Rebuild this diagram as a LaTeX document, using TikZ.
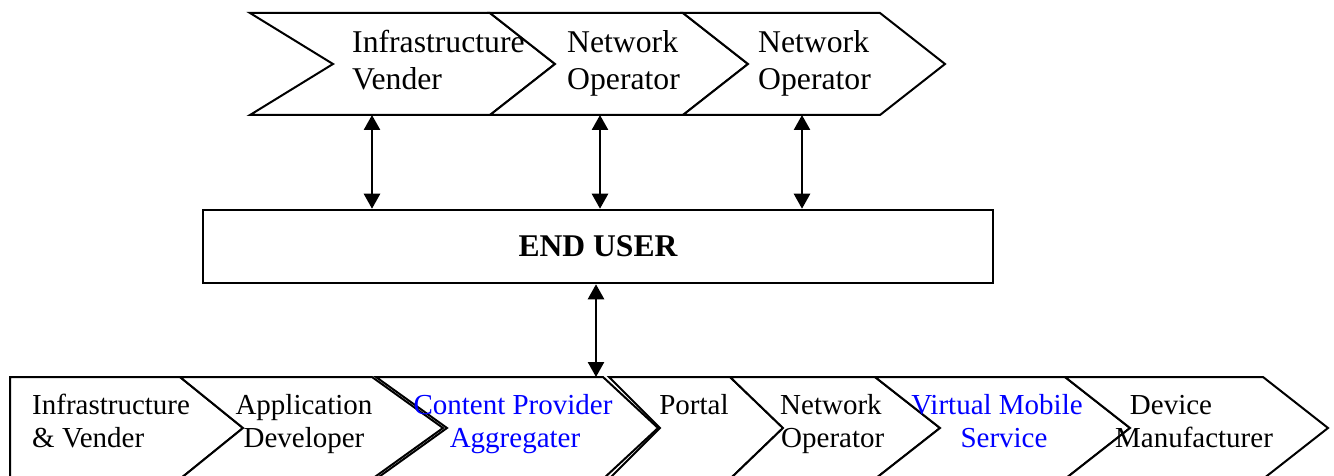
\documentclass[tikz,border=0pt]{standalone}
\usepackage{fontspec}
\setmainfont{Liberation Serif}
\usetikzlibrary{arrows.meta}
\definecolor{lblblue}{RGB}{0,0,255}
\tikzset{
  chev/.style={draw=black, line width=2pt, line join=miter, fill=white},
  toptxt/.style={inner sep=0pt, font=\fontsize{31.7pt}{37pt}\selectfont},
  bottxt/.style={inner sep=0pt, font=\fontsize{29pt}{33pt}\selectfont},
  bluetxt/.style={bottxt, text=lblblue},
  dbl/.style={line width=2.5pt, {Triangle[length=15pt,width=16pt]}-{Triangle[length=15pt,width=16pt]}},
  userbox/.style={draw, line width=2.5pt, minimum width=790pt, minimum height=73pt, inner sep=0pt,
    font=\fontsize{31.6pt}{37pt}\selectfont\bfseries}
}
\begin{document}
\begin{tikzpicture}[x=1pt,y=-1pt]
\useasboundingbox (0,0) rectangle (1334,476);

% top chevrons
\draw[chev] (250,13) -- (490,13) -- (555,64) -- (490,115) -- (250,115) -- (333,64) -- cycle;
\draw[chev] (490,13) -- (683,13) -- (748,64) -- (683,115) -- (490,115) -- (555,64) -- cycle;
\draw[chev] (683,13) -- (880,13) -- (945,64) -- (880,115) -- (683,115) -- (748,64) -- cycle;

\node[toptxt, anchor=base west] (t1a) at (352,53) {Infrastructure};
\node[toptxt, anchor=base west] (t1b) at (352,90) {Vender};
\node[toptxt, anchor=base west] (t2a) at (567,53) {Network};
\node[toptxt, anchor=base west] (t2b) at (567,90) {Operator};
\node[toptxt, anchor=base west] (t3a) at (758,53) {Network};
\node[toptxt, anchor=base west] (t3b) at (758,90) {Operator};

% end user box
\node[userbox] (user) at (598,246.5) {END USER};

% bottom chevrons
\draw[chev] (10,377) -- (180,377) -- (243,428) -- (180,479) -- (10,479) -- cycle;
\draw[chev] (180,377) -- (372,377) -- (443,428) -- (372,479) -- (180,479) -- (243,428) -- cycle;
\draw[chev] (376,377) -- (603,377) -- (658,428) -- (603,479) -- (376,479) -- (447,428) -- cycle;
\draw[chev] (609,377) -- (730,377) -- (783,428) -- (730,479) -- (609,479) -- (660,428) -- cycle;
\draw[chev] (730,377) -- (875,377) -- (940,428) -- (875,479) -- (730,479) -- (783,428) -- cycle;
\draw[chev] (875,377) -- (1065,377) -- (1130,428) -- (1065,479) -- (875,479) -- (940,428) -- cycle;
\draw[chev] (1065,377) -- (1263,377) -- (1328,428) -- (1263,479) -- (1065,479) -- (1130,428) -- cycle;

\node[bottxt, anchor=base west] (b1a) at (32,414) {Infrastructure};
\node[bottxt, anchor=base west] (b1b) at (32,447) {\& Vender};
\node[bottxt, anchor=base] (b2a) at (304,414) {Application};
\node[bottxt, anchor=base] (b2b) at (304,447) {Developer};
\node[bluetxt, anchor=base] (b3a) at (513,414) {Content Provider};
\node[bluetxt, anchor=base] (b3b) at (515,447) {Aggregater};
\node[bottxt, anchor=base] (b4a) at (694,414) {Portal};
\node[bottxt, anchor=base west] (b5a) at (780,414) {Network};
\node[bottxt, anchor=base west] (b5b) at (781,447) {Operator};
\node[bluetxt, anchor=base] (b6a) at (997,414) {Virtual Mobile};
\node[bluetxt, anchor=base] (b6b) at (1004,447) {Service};
\node[bottxt, anchor=base] (b7a) at (1171,414) {Device};
\node[bottxt, anchor=base] (b7b) at (1194,447) {Manufacturer};

% connector end points
\coordinate (c1) at (372,115);
\coordinate (c2) at (600,115);
\coordinate (c3) at (802,115);
\coordinate (c4) at (596,377);

\draw[dbl] (c1) -- (c1 |- user.north);
\draw[dbl] (c2) -- (c2 |- user.north);
\draw[dbl] (c3) -- (c3 |- user.north);
\draw[dbl] (c4 |- user.south) -- (c4);
\end{tikzpicture}
\end{document}
